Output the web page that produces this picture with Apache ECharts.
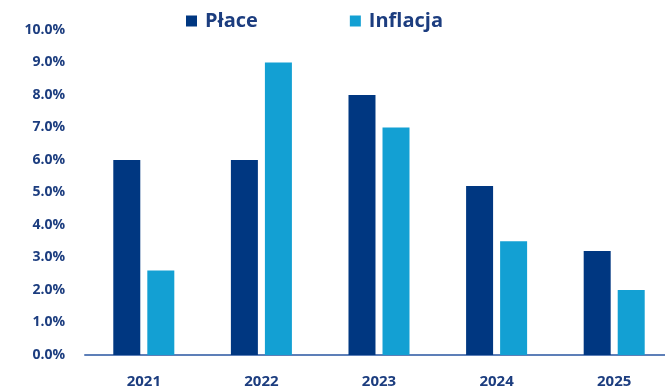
<!DOCTYPE html>
<html>
<head>
<meta charset="utf-8">
<script src="https://cdn.jsdelivr.net/npm/echarts@6/dist/echarts.min.js"></script>
<style>
html,body{margin:0;padding:0;background:#fff;overflow:hidden;width:665px;height:392px;}
#c{width:673px;height:392px;}
</style>
</head>
<body>
<div id="c"></div>
<script>
const categories = ['2021', '2022', '2023', '2024', '2025'];
const place = [6.0, 6.0, 8.0, 5.2, 3.2];
const inflacja = [2.6, 9.0, 7.0, 3.5, 2.0];
const seriesNames = ['Płace', 'Inflacja'];
const yTicks = [0, 1, 2, 3, 4, 5, 6, 7, 8, 9, 10];

const chart = echarts.init(document.getElementById('c'));
const textColor = '#1c3d7f';
const fontFamily = '"Open Sans", "Noto Sans", sans-serif';
chart.setOption({
  animation: false,
  backgroundColor: '#fff',
  legend: {
    top: 6,
    left: 181,
    itemWidth: 11,
    itemHeight: 11,
    itemGap: 92,
    icon: 'rect',
    textStyle: { color: textColor, fontSize: 20, fontWeight: 'bold', fontFamily: fontFamily, padding: [0, 0, 0, 3] },
    data: seriesNames
  },
  grid: { left: 85, right: 0, top: 30, bottom: 37 },
  xAxis: {
    type: 'category',
    data: categories,
    axisLine: { lineStyle: { color: '#5d7fb8', width: 2 } },
    axisTick: { show: false },
    axisLabel: { color: textColor, fontSize: 15, fontWeight: 'bold', fontFamily: fontFamily, margin: 19 }
  },
  yAxis: {
    type: 'value',
    min: 0,
    max: 10,
    interval: 1,
    splitLine: { show: false },
    axisLine: { show: false },
    axisTick: { show: false },
    axisLabel: {
      color: textColor, fontSize: 14, fontWeight: 'bold', fontFamily: fontFamily, margin: 20,
      formatter: v => yTicks.includes(v) ? v.toFixed(1) + '%' : ''
    }
  },
  series: [
    { name: seriesNames[0], type: 'bar', data: place, barWidth: 27, barGap: '26%', itemStyle: { color: '#003781' } },
    { name: seriesNames[1], type: 'bar', data: inflacja, barWidth: 27, itemStyle: { color: '#13a0d3' } }
  ]
});
</script>
</body>
</html>
